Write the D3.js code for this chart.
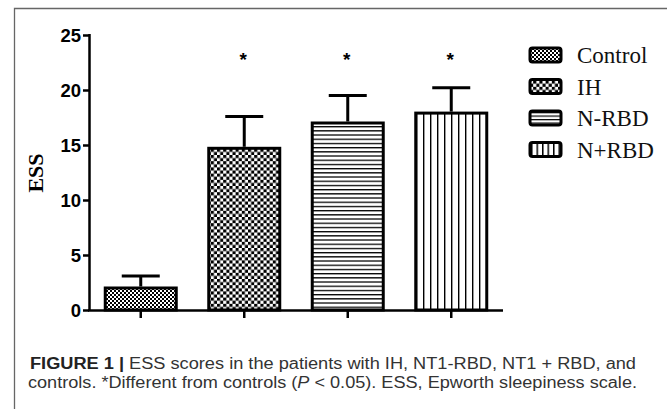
<!DOCTYPE html>
<html><head><meta charset="utf-8">
<script src="https://cdn.jsdelivr.net/npm/d3@7"></script>
<style>html,body{margin:0;padding:0;background:#fff;}svg{display:block;}</style>
</head><body>
<svg id="c" width="667" height="409"></svg>
<script>
const categories = ["Control", "IH", "N-RBD", "N+RBD"];
const means = [2.0, 14.7, 17.0, 17.9];
const errors = [1.1, 2.9, 2.5, 2.3];
const significant = [false, true, true, true];
const yTicks = [0, 5, 10, 15, 20, 25];
const yLabel = "ESS";
const captionBold = "FIGURE 1 |";
const captionLine1 = " ESS scores in the patients with IH, NT1-RBD, NT1 + RBD, and";
const captionLine2 = "controls. *Different from controls (";
const captionLine2b = " < 0.05). ESS, Epworth sleepiness scale.";

const svg = d3.select("#c");
const defs = svg.append("defs");

function checker(id, cell) {
  const p = defs.append("pattern").attr("id", id).attr("patternUnits", "userSpaceOnUse")
    .attr("width", cell * 2).attr("height", cell * 2);
  p.append("rect").attr("width", cell * 2).attr("height", cell * 2).attr("fill", "#fff");
  p.append("rect").attr("width", cell).attr("height", cell).attr("fill", "#000");
  p.append("rect").attr("x", cell).attr("y", cell).attr("width", cell).attr("height", cell).attr("fill", "#000");
}
checker("pControl", 2);
checker("pIH", 3.1);
(function () {
  const p = defs.append("pattern").attr("id", "pNRBD").attr("patternUnits", "userSpaceOnUse")
    .attr("width", 10).attr("height", 4.2);
  p.append("rect").attr("width", 10).attr("height", 4.2).attr("fill", "#fff");
  p.append("rect").attr("y", 0).attr("width", 10).attr("height", 1.3).attr("fill", "#000");
  const q = defs.append("pattern").attr("id", "pNpRBD").attr("patternUnits", "userSpaceOnUse")
    .attr("width", 7).attr("height", 10).attr("x", 416);
  q.append("rect").attr("width", 7).attr("height", 10).attr("fill", "#fff");
  q.append("rect").attr("x", 0).attr("width", 1.4).attr("height", 10).attr("fill", "#000");
  const l1 = defs.append("pattern").attr("id", "lNRBD").attr("patternUnits", "userSpaceOnUse")
    .attr("width", 10).attr("height", 3.5);
  l1.append("rect").attr("width", 10).attr("height", 3.5).attr("fill", "#fff");
  l1.append("rect").attr("width", 10).attr("height", 1.2).attr("fill", "#000");
  const l2 = defs.append("pattern").attr("id", "lNpRBD").attr("patternUnits", "userSpaceOnUse")
    .attr("width", 5.5).attr("height", 10).attr("x", 531);
  l2.append("rect").attr("width", 5.5).attr("height", 10).attr("fill", "#fff");
  l2.append("rect").attr("width", 1.5).attr("height", 10).attr("fill", "#000");
})();
const fills = ["url(#pControl)", "url(#pIH)", "url(#pNRBD)", "url(#pNpRBD)"];
const legendFills = ["url(#pControl)", "url(#pIH)", "url(#lNRBD)", "url(#lNpRBD)"];

svg.append("path").attr("d", "M14.5,409 V8.5 H667").attr("fill", "none")
  .attr("stroke", "#666").attr("stroke-width", 1.3);

const x = d3.scaleBand().domain(categories).range([89, 503]).paddingInner(0.314).paddingOuter(0.157);
const y = d3.scaleLinear().domain([0, 25]).range([310, 35]);

svg.selectAll("rect.bar").data(categories).enter().append("rect").attr("class", "bar")
  .attr("x", d => x(d)).attr("width", x.bandwidth())
  .attr("y", (d, i) => y(means[i])).attr("height", (d, i) => y(0) - y(means[i]))
  .attr("fill", (d, i) => fills[i]).attr("stroke", "#000").attr("stroke-width", 3);

const eb = svg.append("g").attr("stroke", "#000").attr("stroke-width", 3);
categories.forEach((c, i) => {
  const cx = x(c) + x.bandwidth() / 2;
  eb.append("line").attr("x1", cx).attr("x2", cx).attr("y1", y(means[i]) - 1.5).attr("y2", y(means[i] + errors[i]));
  eb.append("line").attr("x1", cx - 19).attr("x2", cx + 19).attr("y1", y(means[i] + errors[i])).attr("y2", y(means[i] + errors[i]));
});

svg.selectAll("text.sig").data(categories.filter((c, i) => significant[i])).enter().append("text")
  .attr("class", "sig").attr("x", d => x(d) + x.bandwidth() / 2 - 1).attr("y", y(22.15))
  .attr("text-anchor", "middle").attr("font-family", "Liberation Sans, Arial, sans-serif")
  .attr("font-weight", "bold").attr("font-size", 19).text("*");

const yAxis = svg.append("g").attr("transform", "translate(89,0)")
  .call(d3.axisLeft(y).tickValues(yTicks).tickSize(6).tickPadding(2).tickSizeOuter(0));
yAxis.select(".domain").attr("stroke-width", 2.5).attr("d", `M0.5,${y(25)-1}V${y(0)+1}`);
yAxis.selectAll(".tick line").attr("stroke-width", 2.5);
yAxis.selectAll(".tick text").attr("font-family", "Liberation Sans, Arial, sans-serif")
  .attr("font-weight", "bold").attr("font-size", 18.5).attr("fill", "#000").attr("dy", "0.34em");

const xAxis = svg.append("g").attr("transform", "translate(0,310)")
  .call(d3.axisBottom(x).tickSize(8).tickSizeOuter(0).tickFormat(""));
xAxis.select(".domain").attr("stroke-width", 2.5).attr("d", "M88,0.5H503");
xAxis.selectAll(".tick line").attr("stroke-width", 2.5);

svg.append("text").attr("transform", "translate(43,173) rotate(-90)").attr("text-anchor", "middle")
  .attr("font-family", "Liberation Serif, Times New Roman, serif").attr("font-weight", "bold")
  .attr("font-size", 22).text(yLabel);

const lg = svg.append("g");
categories.forEach((c, i) => {
  const top = 48 + i * 31.5;
  lg.append("rect").attr("x", 530).attr("y", top).attr("width", 31).attr("height", 14)
    .attr("rx", 2.5).attr("fill", legendFills[i]).attr("stroke", "#000").attr("stroke-width", 3);
  lg.append("text").attr("x", 577).attr("y", top + 15).attr("font-family", "Liberation Serif, Times New Roman, serif")
    .attr("font-size", 23).attr("fill", "#111").text(c);
});

const cap = svg.append("g").attr("font-family", "'Liberation Sans', Arial, sans-serif").attr("font-size", 16).attr("fill", "#333");
const t1 = cap.append("text").attr("x", 30).attr("y", 369).attr("textLength", 606).attr("lengthAdjust", "spacingAndGlyphs");
t1.append("tspan").attr("font-weight", "bold").attr("fill", "#222").text(captionBold);
t1.append("tspan").text(captionLine1);
const t2 = cap.append("text").attr("x", 28).attr("y", 388).attr("textLength", 609).attr("lengthAdjust", "spacingAndGlyphs");
t2.append("tspan").text(captionLine2);
t2.append("tspan").attr("font-style", "italic").text("P");
t2.append("tspan").text(captionLine2b);
</script>
</body></html>
